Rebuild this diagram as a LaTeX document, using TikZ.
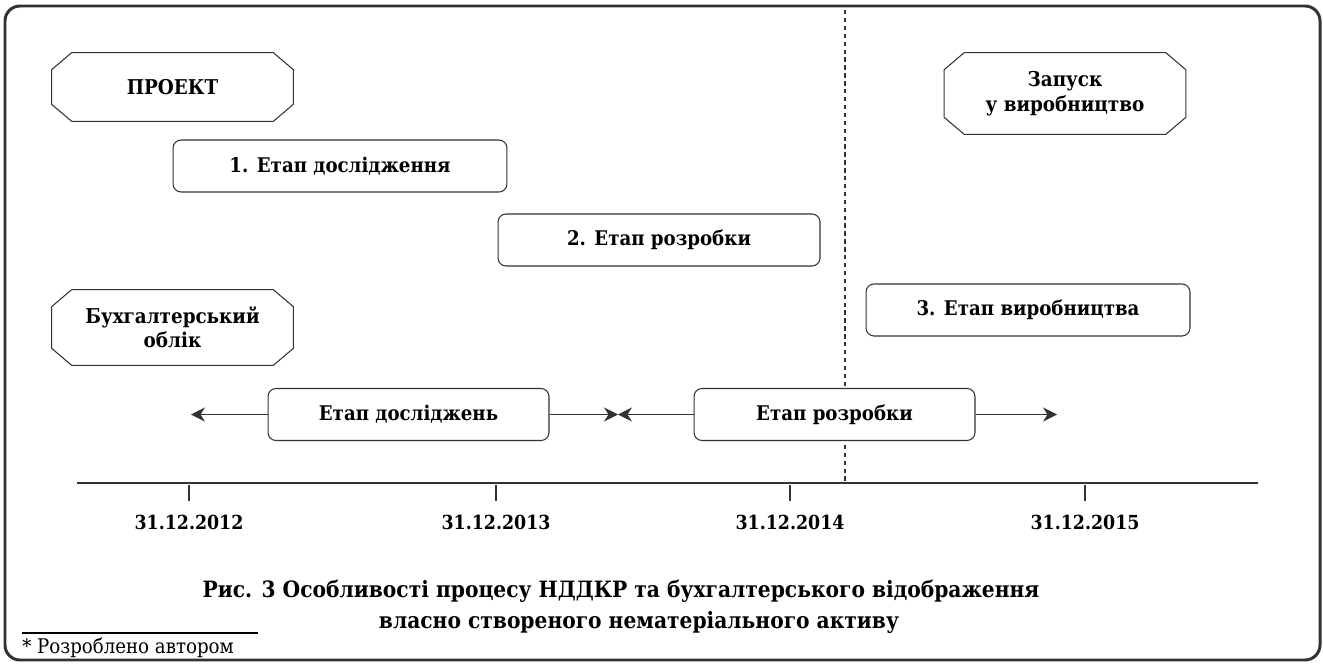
\documentclass[tikz,border=0pt]{standalone}
\usepackage{fontspec}
\IfFontExistsTF{DejaVu Serif Condensed}
  {\setmainfont{DejaVu Serif Condensed}}
  {\setmainfont{DejaVu Serif}}
\usetikzlibrary{arrows.meta,positioning}
\definecolor{lnclr}{RGB}{50,50,50}

\begin{document}
\begin{tikzpicture}[x=0.02cm, y=-0.02cm,
    octbox/.style={rectangle, minimum width=4.82cm, minimum height=1.36cm,
      inner sep=0pt, align=center, font=\fontsize{11.6}{14}\selectfont\bfseries},
    octline/.style={draw=lnclr, line width=0.6pt},
    stagebox/.style={rectangle, rounded corners=0.16cm, draw=lnclr, line width=0.6pt,
      fill=white, minimum height=1.04cm, inner sep=0pt,
      font=\fontsize{11.5}{14}\selectfont\bfseries},
    span/.style={-{Stealth[length=0.28cm, width=0.28cm]}, draw=lnclr, line width=0.6pt},
    datelbl/.style={font=\fontsize{11}{13}\selectfont\bfseries, anchor=base},
    caplbl/.style={font=\fontsize{12.8}{16}\selectfont\bfseries, anchor=base}
]
\useasboundingbox (0,0) rectangle (1323,666);

% Frame
\draw[lnclr, line width=1.7pt, rounded corners=0.3cm] (5,6) rectangle (1320,660);

% Boundary of the project (dashed)
\coordinate (dtop) at (845,10);
\coordinate (dbot) at (845,483);
\draw[lnclr, line width=0.6pt, dash pattern=on 2.5pt off 2pt] (dtop) -- (dbot);

% Upper level: project
\node[octbox] (proj) at (172.5,87) {ПРОЕКТ};
\node[octbox, minimum height=1.62cm] (launch) at (1065,93.5) {Запуск\\у виробництво};
\node[stagebox, minimum width=6.68cm] (st1) at (340,166) {1. Етап дослідження};
\node[stagebox, minimum width=6.44cm] (st2) at (659,240) {2. Етап розробки};
\node[stagebox, minimum width=6.48cm] (st3) at (1028,310) {3. Етап виробництва};

% Lower level: accounting
\node[octbox, minimum height=1.5cm] (acct) at (172.5,327.5) {Бухгалтерський\\облік};
\node[stagebox, minimum width=5.62cm] (res) at (408.5,414.5) {Етап досліджень};
\node[stagebox, minimum width=5.62cm] (dev) at (834.5,414.5) {Етап розробки};

% cut corners of the octagons
\foreach \n in {proj,launch,acct} {
  \draw[octline] ([xshift=0.4cm]\n.north west) -- ([xshift=-0.4cm]\n.north east)
    -- ([yshift=-0.34cm]\n.north east) -- ([yshift=0.34cm]\n.south east)
    -- ([xshift=-0.4cm]\n.south east) -- ([xshift=0.4cm]\n.south west)
    -- ([yshift=0.34cm]\n.south west) -- ([yshift=-0.34cm]\n.north west) -- cycle;
}

\coordinate (a1) at (191,414.5);
\coordinate (a2) at (618,414.5);
\coordinate (a3) at (1057,414.5);
\draw[span] (res.west) -- (a1);
\draw[span] (res.east) -- (a2);
\draw[span] (dev.west) -- (a2);
\draw[span] (dev.east) -- (a3);

% Time axis
\coordinate (tl0) at (77,483);
\coordinate (tl1) at (1258,483);
\draw[lnclr, line width=1.5pt] (tl0) -- (tl1);
\foreach \x/\yr in {189/2012, 496/2013, 790/2014, 1085/2015} {
  \coordinate (t\yr) at (\x,485);
  \draw[lnclr, line width=0.6pt] (t\yr) -- ++(0,16);
  \node[datelbl] (d\yr) at (\x,529) {31.12.\yr};
}

% Caption
\node[caplbl] (cap1) at (621,597) {Рис. 3 Особливості процесу НДДКР та бухгалтерського відображення};
\node[caplbl] (cap2) at (639,628) {власно створеного нематеріального активу};

% Footnote
\coordinate (fn0) at (22,633);
\coordinate (fn1) at (258,633);
\draw[black, line width=0.6pt] (fn0) -- (fn1);
\node[anchor=base west, inner sep=0pt, font=\fontsize{11.5}{14}\selectfont] (fn) at (22,653) {* Розроблено автором};

\end{tikzpicture}
\end{document}
